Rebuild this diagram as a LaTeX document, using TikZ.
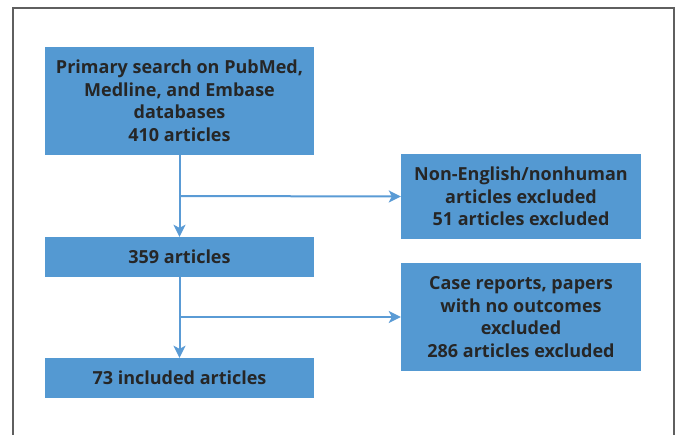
\documentclass[tikz,border=0pt]{standalone}
\usepackage{fontspec}
\setmainfont{Open Sans}
\usetikzlibrary{arrows.meta}
\definecolor{boxblue}{HTML}{5499D2}
\definecolor{lineblue}{HTML}{5A9BD5}
\definecolor{txt}{HTML}{262626}
\definecolor{framegray}{HTML}{5F5F5F}
\tikzset{
  box/.style={draw=none, fill=boxblue, text=txt, align=center, inner sep=0pt,
    font=\fontsize{18}{22.5}\selectfont\bfseries},
  conn/.style={draw=lineblue, line width=2pt},
  arr/.style={conn, -{Stealth[length=12pt,width=12pt,inset=3pt]}},
}
\begin{document}
\begin{tikzpicture}[x=1pt,y=1pt]
\useasboundingbox (0,0) rectangle (676,-435);
\draw[framegray, line width=2pt] (13,-436) -- (13,-8) -- (674,-8) -- (674,-436);
\node[box, minimum width=269pt, minimum height=108pt] (a) at (179.5,-101) {Primary search on PubMed,\\Medline, and Embase\\databases\\410 articles};
\node[box, minimum width=269pt, minimum height=40pt] (b) at (179.5,-257) {359 articles};
\node[box, minimum width=269pt, minimum height=40pt] (c) at (179.5,-378) {73 included articles};
\node[box, minimum width=240pt, minimum height=85pt] (d) at (521,-196.5) {Non-English/nonhuman\\articles excluded\\51 articles excluded};
\node[box, minimum width=240pt, minimum height=108pt] (e) at (521,-317) {Case reports, papers\\with no outcomes\\excluded\\286 articles excluded};
\coordinate (j1) at (179.5,-196);
\coordinate (j2) at (179.5,-317);
\draw[arr] (a.south) -- (b.north);
\draw[arr] (j1) -- (d.west);
\draw[arr] (b.south) -- (c.north);
\draw[arr] (j2) -- (e.west);
\end{tikzpicture}
\end{document}
